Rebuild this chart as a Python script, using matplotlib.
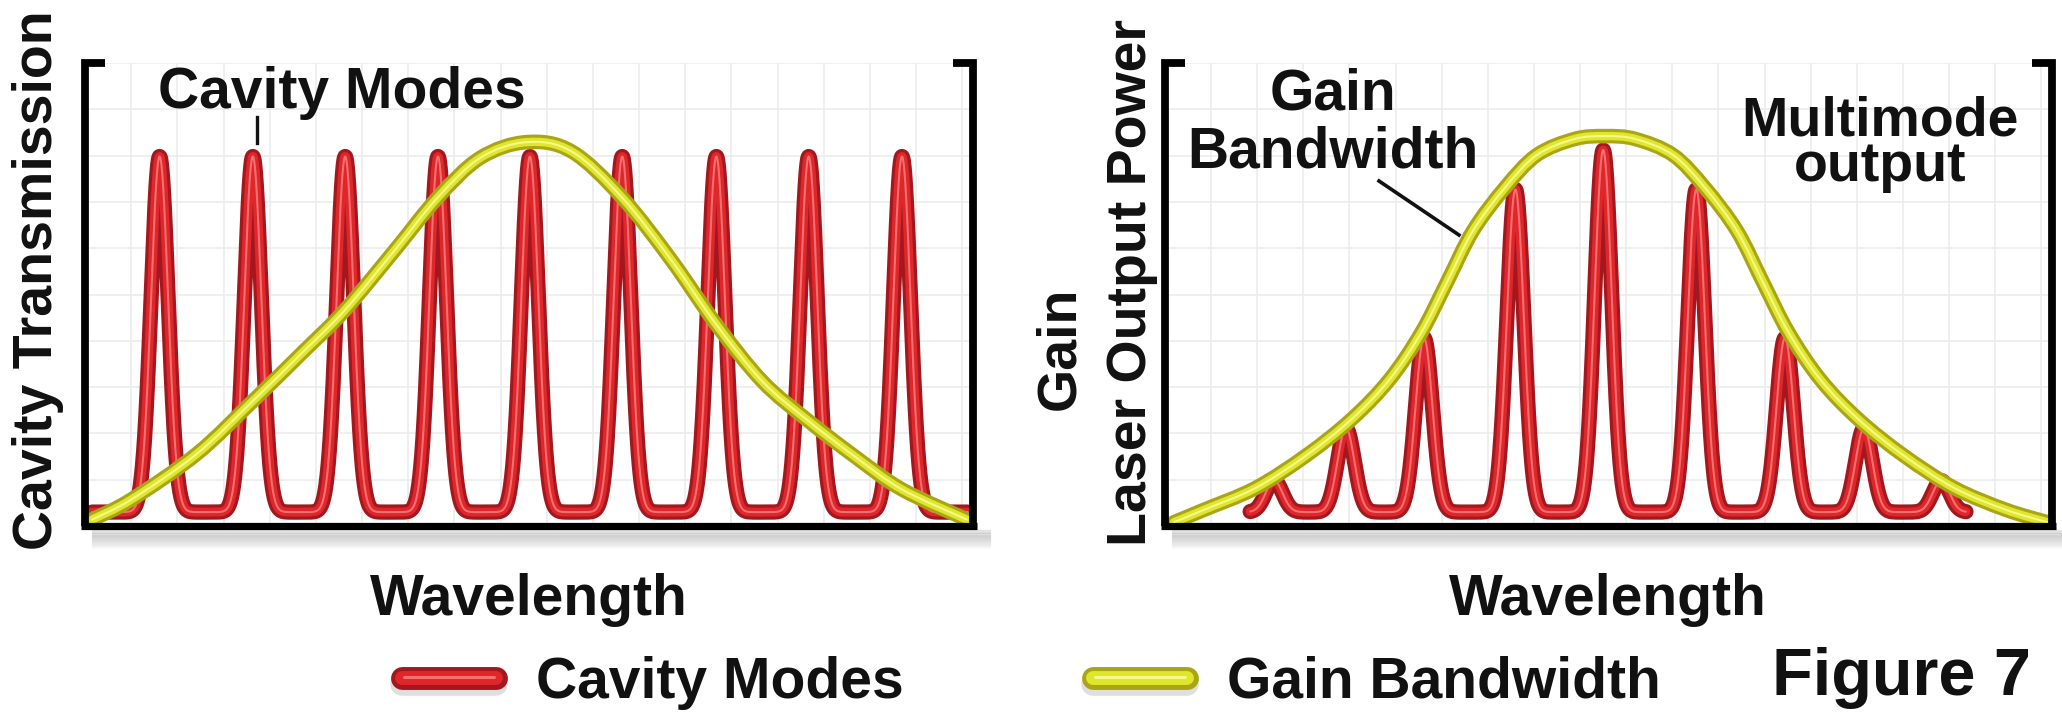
import numpy as np
import matplotlib
matplotlib.use("Agg")
import matplotlib.pyplot as plt
from matplotlib.path import Path
from matplotlib.patches import PathPatch
from matplotlib.lines import Line2D

plt.rcParams['font.family'] = ['Liberation Sans', 'DejaVu Sans']

# ---------------- data (axes span 0..100) ----------------
# Left panel: cavity modes (positions, heights) and gain curve samples
left_mode_pos = [8.4, 18.9, 29.3, 39.75, 50.1, 60.5, 71.1, 81.5, 92.0]
left_mode_height = [79.8, 79.8, 79.8, 79.8, 79.8, 79.8, 79.8, 79.8, 79.8]
left_baseline = 3.0
left_gain_x = [0.8, 5.2, 12.6, 18.9, 24.5, 29.2, 34.9, 39.7, 44.5, 49.7,
               54.8, 60.5, 66.0, 71.1, 76.3, 81.4, 86.7, 92.0, 99.3]
left_gain_y = [1.4, 5.7, 15.6, 27.0, 37.5, 46.5, 59.6, 70.9, 79.5, 82.9,
               80.9, 70.9, 57.5, 43.5, 31.2, 22.8, 15.0, 7.9, 1.4]

# Right panel: laser output modes and gain curve samples
right_mode_pos = [12.3, 20.4, 29.2, 39.5, 49.4, 59.9, 69.9, 78.8, 87.5]
right_mode_height = [9.8, 21.1, 40.6, 72.7, 81.2, 72.7, 40.6, 21.1, 9.8]
right_baseline = 3.0
right_red_range = [9.6, 90.3]
right_gain_x = [1.0, 4.4, 10.2, 15.9, 21.0, 25.3, 28.9, 31.8, 34.7, 38.3, 41.9, 46.2, 49.6,
                53.0, 57.3, 60.9, 64.5, 67.4, 70.3, 73.9, 78.2, 83.3, 89.0, 94.8, 99.5]
right_gain_y = [0.8, 3.5, 8.2, 15.2, 23.0, 31.6, 41.8, 52.7, 63.7, 73.0, 80.1, 83.6, 84.2,
                83.6, 80.1, 73.0, 63.7, 52.7, 41.8, 31.6, 23.0, 15.2, 8.2, 3.5, 0.8]

legend_labels = ["Cavity Modes", "Gain Bandwidth"]

# ---------------- styling ----------------
W, H = 2062, 712
RED = ('#a3181f', '#de262b', '#f27070')
YEL = ('#aaa516', '#dfe62c', '#f5f88c')
TXT = '#111111'
FONT = dict(fontweight='bold', color=TXT)

fig = plt.figure(figsize=(W / 100, H / 100), dpi=100)
fig.patch.set_facecolor('white')


def fx(px):
    return px / W


def fy(py):
    return 1 - py / H


def smooth_path(xs, ys):
    pts = np.column_stack([xs, ys]).astype(float)
    verts = [pts[0]]
    codes = [Path.MOVETO]
    n = len(pts)
    for i in range(n - 1):
        p0 = pts[i - 1] if i > 0 else pts[i]
        p1 = pts[i]
        p2 = pts[i + 1]
        p3 = pts[i + 2] if i + 2 < n else pts[i + 1]
        verts += [p1 + (p2 - p0) / 6.0, p2 - (p3 - p1) / 6.0, p2]
        codes += [Path.CURVE4] * 3
    return Path(verts, codes)


def mode_comb(pos, heights, base, x0, x1, w=1.35):
    xx = np.linspace(x0, x1, 4000)
    yy = np.full_like(xx, base)
    for c, h in zip(pos, heights):
        yy += (h - base) * np.exp(-((xx - c) / w) ** 2)
    return xx, yy


def tube_line(ax, xx, yy, cols, lws, z):
    for c, lw, dz in zip(cols, lws, (0, 0.1, 0.2)):
        ax.plot(xx, yy, color=c, lw=lw, solid_capstyle='round',
                solid_joinstyle='round', zorder=z + dz, clip_on=False)


def tube_path(ax, path, cols, lws, z):
    for c, lw, dz in zip(cols, lws, (0, 0.1, 0.2)):
        ax.add_patch(PathPatch(path, facecolor='none', edgecolor=c, lw=lw,
                               capstyle='round', joinstyle='round', zorder=z + dz,
                               clip_on=False))


def setup_axes(rect):
    ax = fig.add_axes(rect)
    ax.set_xlim(0, 100)
    ax.set_ylim(0, 100)
    ax.set_facecolor('white')
    for s in ax.spines.values():
        s.set_visible(False)
    ax.set_xticks(np.arange(0, 101, 5.2))
    ax.set_yticks(np.arange(0, 101, 10))
    ax.tick_params(length=0, labelbottom=False, labelleft=False)
    ax.grid(True, color='#ececec', lw=1.2, zorder=0)
    ax.set_axisbelow(True)
    # shadow under the bottom axis
    for k in range(8):
        ax.plot([1.0, 101.8], [-1.4 - 0.45 * k] * 2, color='#555555',
                alpha=0.17 - 0.019 * k, lw=3, clip_on=False, zorder=1)
    # bottom axis
    ax.plot([-0.4, 100.4], [0, 0], color='black', lw=5.2, clip_on=False,
            solid_capstyle='butt', zorder=6)
    # brackets
    ax.plot([0, 0, 2.3], [0, 100, 100], color='black', lw=5.6, clip_on=False,
            solid_joinstyle='miter', solid_capstyle='butt', zorder=6)
    ax.plot([100, 100, 97.7], [0, 100, 100], color='black', lw=5.6, clip_on=False,
            solid_joinstyle='miter', solid_capstyle='butt', zorder=6)
    return ax


# axes rectangles from pixel extents
axL = setup_axes([fx(85), fy(526), fx(973) - fx(85), fy(63) - fy(526)])
axR = setup_axes([fx(1165), fy(526), fx(2052) - fx(1165), fy(63) - fy(526)])

# left panel curves
xx, yy = mode_comb(left_mode_pos, left_mode_height, left_baseline, 0.8, 99.4)
tube_line(axL, xx, yy, RED, (11.0, 6.4, 1.5), 3)
tube_path(axL, smooth_path(left_gain_x, left_gain_y), YEL, (10.5, 6.0, 1.5), 4)

# right panel curves
xx, yy = mode_comb(right_mode_pos, right_mode_height, right_baseline,
                   right_red_range[0], right_red_range[1])
tube_line(axR, xx, yy, RED, (11.0, 6.4, 1.5), 3)
tube_path(axR, smooth_path(right_gain_x, right_gain_y), YEL, (10.5, 6.0, 1.5), 4)

# axis labels
fig.text(fx(38), fy(280), "Cavity Transmission", rotation=90, ha='center', va='center',
         fontsize=40, **FONT)
fig.text(fx(1060), fy(348), "Gain", rotation=90, ha='center', va='center',
         fontsize=40, **FONT)
fig.text(fx(1132), fy(283), "Laser Output Power", rotation=90, ha='center', va='center',
         fontsize=40, **FONT)
fig.text(fx(529), fy(615), "Wavelength", ha='center', va='baseline', fontsize=41, **FONT)
fig.text(fx(1608), fy(615), "Wavelength", ha='center', va='baseline', fontsize=41, **FONT)

# annotations
fig.text(fx(158), fy(108), "Cavity Modes", ha='left', va='baseline', fontsize=41, **FONT)
fig.add_artist(Line2D([fx(257), fx(257)], [fy(117), fy(143)], color=TXT, lw=2.4))
fig.text(fx(1333), fy(110), "Gain", ha='center', va='baseline', fontsize=41, **FONT)
fig.text(fx(1333), fy(167), "Bandwidth", ha='center', va='baseline', fontsize=41, **FONT)
fig.add_artist(Line2D([fx(1379), fx(1459)], [fy(181), fy(235)], color=TXT, lw=2.6))
fig.text(fx(1880), fy(95), "Multimode\noutput", ha='center', va='top', ma='center',
         linespacing=0.86, fontsize=40, **FONT)


# legend
def swatch(x0, x1, y, cols):
    fig.add_artist(Line2D([fx(x0 + 12), fx(x1 - 12)], [fy(y + 6)] * 2, color='#808080',
                          alpha=0.25, lw=17, solid_capstyle='round'))
    fig.add_artist(Line2D([fx(x0 + 12), fx(x1 - 12)], [fy(y)] * 2, color=cols[0],
                          lw=16.5, solid_capstyle='round'))
    fig.add_artist(Line2D([fx(x0 + 12), fx(x1 - 12)], [fy(y)] * 2, color=cols[1],
                          lw=10, solid_capstyle='round'))
    fig.add_artist(Line2D([fx(x0 + 14), fx(x1 - 14)], [fy(y - 1)] * 2, color=cols[2],
                          lw=2.2, solid_capstyle='round'))


swatch(390, 508, 678, RED)
fig.text(fx(536), fy(698), legend_labels[0], ha='left', va='baseline', fontsize=41, **FONT)
swatch(1081, 1199, 678, YEL)
fig.text(fx(1227), fy(698), legend_labels[1], ha='left', va='baseline', fontsize=41, **FONT)
fig.text(fx(1772), fy(695), "Figure 7", ha='left', va='baseline', fontsize=48, **FONT)

fig.savefig("out.png", dpi=100, facecolor='white')
